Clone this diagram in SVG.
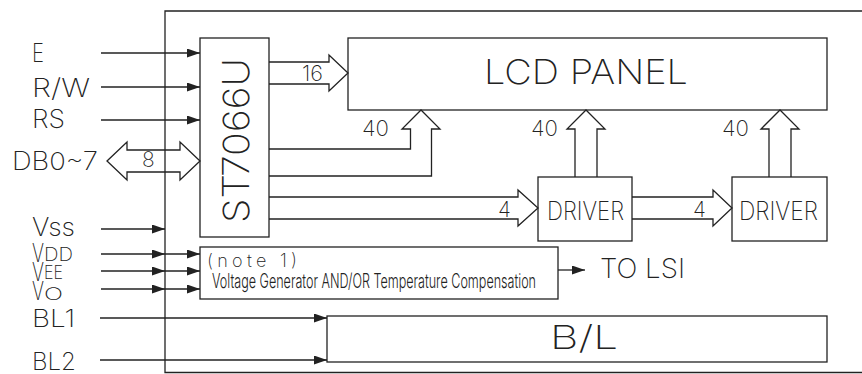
<svg xmlns="http://www.w3.org/2000/svg" width="862" height="374" viewBox="0 0 862 374">
<style>
.box{fill:none;stroke:#222;stroke-width:1.3}
.ln{fill:none;stroke:#222;stroke-width:1.3}
.bus{fill:none;stroke:#222;stroke-width:1.3;stroke-linejoin:miter}
text{font-family:"Inter","Liberation Sans",Arial,sans-serif;font-weight:200;fill:#222}
</style>
<defs>
<marker id="ah" markerUnits="userSpaceOnUse" markerWidth="14" markerHeight="10" refX="13" refY="4.5" orient="auto">
<path d="M0,0 L13,4.5 L0,9 Z" fill="#222"/>
</marker>
</defs>
<rect width="862" height="374" fill="#fff"/>
<g id="outer"><path class="box" d="M863,11 H165 V372.5 H863"/></g>

<g id="st7066u">
<rect class="box" x="200" y="38" width="69" height="199"/>
<text transform="translate(249,140.5) rotate(-90)" text-anchor="middle" font-size="36" textLength="165" lengthAdjust="spacingAndGlyphs">ST7066U</text>
</g>
<g id="lcd">
<rect class="box" x="348" y="38" width="479" height="72"/>
<text x="484" y="84" font-size="34" textLength="204" lengthAdjust="spacingAndGlyphs">LCD PANEL</text>
</g>
<g id="driver1">
<rect class="box" x="538" y="177" width="94" height="64"/>
<text x="547" y="220" font-size="26" textLength="77" lengthAdjust="spacingAndGlyphs">DRIVER</text>
</g>
<g id="driver2">
<rect class="box" x="732" y="177" width="95" height="64"/>
<text x="739" y="220" font-size="26" textLength="79" lengthAdjust="spacingAndGlyphs">DRIVER</text>
</g>
<g id="vgen">
<rect class="box" x="200" y="247" width="358" height="52"/>
<text x="207" y="267" font-size="18" textLength="90">(note 1)</text>
<text x="212" y="288" font-size="20" textLength="324" lengthAdjust="spacingAndGlyphs" style="font-weight:300">Voltage Generator AND/OR Temperature Compensation</text>
</g>
<g id="backlight">
<rect class="box" x="327" y="316" width="500" height="46"/>
<text x="550" y="349" font-size="33" textLength="68" lengthAdjust="spacingAndGlyphs">B/L</text>
</g>

<g id="labels">
<text x="32" y="62" font-size="26" textLength="12" lengthAdjust="spacingAndGlyphs">E</text>
<text x="32" y="97" font-size="26" textLength="58" lengthAdjust="spacingAndGlyphs">R/W</text>
<text x="32" y="128" font-size="26" textLength="33" lengthAdjust="spacingAndGlyphs">RS</text>
<text x="12" y="170" font-size="25" textLength="86" lengthAdjust="spacingAndGlyphs">DB0~7</text>
<text x="32" y="236" font-size="25" textLength="43" lengthAdjust="spacingAndGlyphs">Vss</text>
<text font-size="26"><tspan x="32" y="262" textLength="12" lengthAdjust="spacingAndGlyphs">V</tspan><tspan x="44" y="261" font-size="18" textLength="29" lengthAdjust="spacingAndGlyphs">DD</tspan></text>
<text font-size="26"><tspan x="32" y="281" textLength="12" lengthAdjust="spacingAndGlyphs">V</tspan><tspan x="44" y="279" font-size="18" textLength="19" lengthAdjust="spacingAndGlyphs">EE</tspan></text>
<text font-size="26"><tspan x="32" y="300" textLength="12" lengthAdjust="spacingAndGlyphs">V</tspan><tspan x="44" y="300" font-size="17" textLength="19" lengthAdjust="spacingAndGlyphs">O</tspan></text>
<text x="32" y="327" font-size="24" textLength="43" lengthAdjust="spacingAndGlyphs">BL1</text>
<text x="32" y="370" font-size="24" textLength="44" lengthAdjust="spacingAndGlyphs">BL2</text>
<text x="600" y="278" font-size="27" textLength="85" lengthAdjust="spacingAndGlyphs">TO LSI</text>
</g>

<g id="connectors">
<line class="ln" x1="101" y1="53" x2="200" y2="53" marker-end="url(#ah)"/>
<line class="ln" x1="101" y1="87" x2="200" y2="87" marker-end="url(#ah)"/>
<line class="ln" x1="101" y1="120" x2="200" y2="120" marker-end="url(#ah)"/>
<line class="ln" x1="101" y1="229" x2="165" y2="229" marker-end="url(#ah)"/>
<line class="ln" x1="101" y1="254" x2="165" y2="254" marker-end="url(#ah)"/>
<line class="ln" x1="165" y1="254" x2="200" y2="254" marker-end="url(#ah)"/>
<line class="ln" x1="101" y1="271" x2="165" y2="271" marker-end="url(#ah)"/>
<line class="ln" x1="165" y1="271" x2="200" y2="271" marker-end="url(#ah)"/>
<line class="ln" x1="101" y1="289" x2="165" y2="289" marker-end="url(#ah)"/>
<line class="ln" x1="165" y1="289" x2="200" y2="289" marker-end="url(#ah)"/>
<line class="ln" x1="100" y1="318" x2="327" y2="318" marker-end="url(#ah)"/>
<line class="ln" x1="100" y1="360" x2="327" y2="360" marker-end="url(#ah)"/>
<line class="ln" x1="558" y1="270" x2="585" y2="270" marker-end="url(#ah)"/>

<path class="bus" d="M107,161 L127,142 V150 H180 V142 L200,161 L180,180 V172 H127 V180 Z"/>
<text x="142" y="167" font-size="21">8</text>

<path class="bus" d="M269,62 H329 V55 L348,73 L329,91 V84 H269"/>
<text x="302" y="81" font-size="21" textLength="21" lengthAdjust="spacingAndGlyphs">16</text>

<path class="bus" d="M269,149 H410.5 V129 H402 L421,110 L440,129 H431.5 V176 H269"/>
<text x="362" y="136" font-size="22" textLength="27" lengthAdjust="spacingAndGlyphs">40</text>

<path class="bus" d="M575,177 V129 H567 L586,110 L605,129 H597 V177"/>
<text x="531" y="136" font-size="22" textLength="27" lengthAdjust="spacingAndGlyphs">40</text>

<path class="bus" d="M769,177 V129 H761 L780,110 L799,129 H791 V177"/>
<text x="722" y="136" font-size="22" textLength="27" lengthAdjust="spacingAndGlyphs">40</text>

<path class="bus" d="M269,197 H518 V190 L538,208 L518,226 V219 H269"/>
<text x="498" y="217" font-size="21">4</text>

<path class="bus" d="M632,197 H713 V190 L732,208 L713,226 V219 H632"/>
<text x="693" y="217" font-size="21">4</text>
</g>
</svg>
